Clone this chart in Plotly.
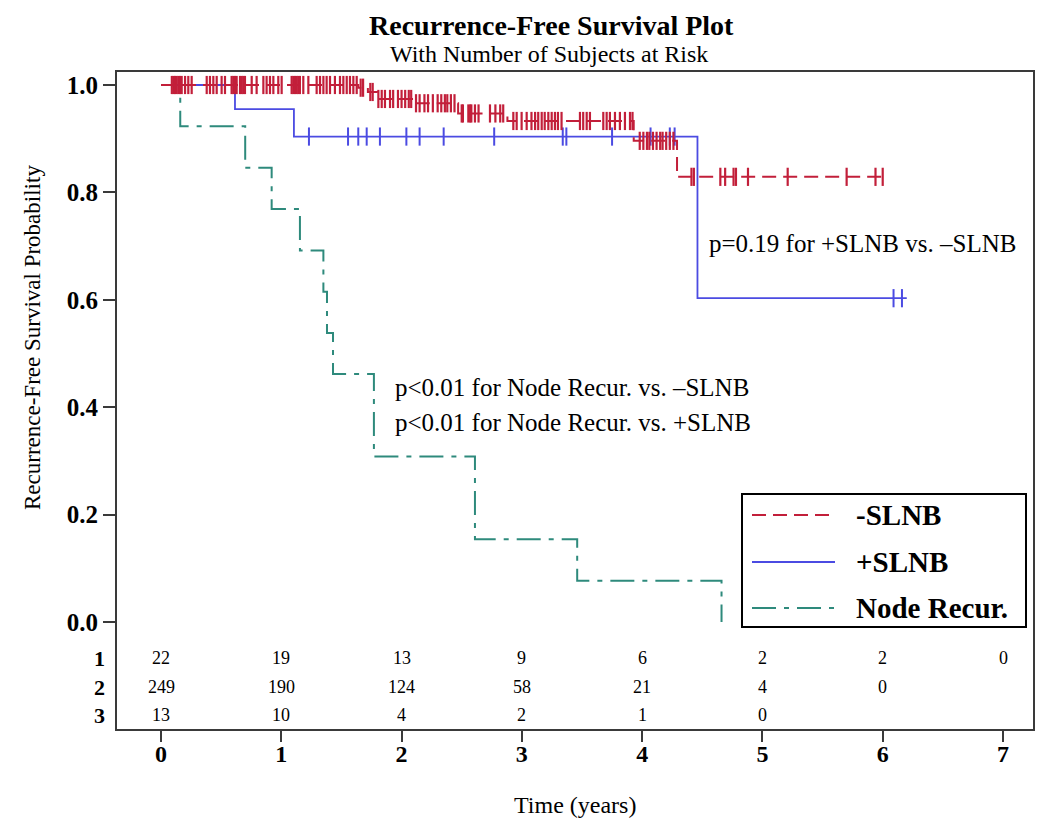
import numpy as np
import plotly.graph_objects as go

FONT = "Liberation Serif"
RED = "#C21F3A"
BLUE = "#4B4BE2"
TEAL = "#2E8A7C"
FRAME = "#3a3a3a"

# ---------------- data ----------------
# Node Recur. (group 3)
nr_times = [0.0, 0.16, 0.70, 0.92, 1.155, 1.35, 1.38, 1.43, 1.77, 2.61, 3.46, 4.66]
nr_surv = [1.0, 0.923, 0.846, 0.769, 0.692, 0.615, 0.538, 0.462, 0.308, 0.154, 0.077, 0.0]

# +SLNB (group 1)
pos_times = [0.0, 0.615, 1.105, 4.46, 6.20]
pos_surv = [1.0, 0.955, 0.904, 0.603, 0.603]
pos_censor = [1.23, 1.555, 1.64, 1.71, 1.82, 2.04, 2.15, 2.35, 2.77, 3.34, 3.37,
              3.75, 4.07, 4.23, 4.27, 6.09, 6.16]

# -SLNB (group 2)
neg_times = [0.0, 1.64, 1.72, 1.80, 2.10, 2.47, 2.88, 3.93, 4.29, 6.03]
neg_surv = [1.0, 0.995, 0.987, 0.974, 0.966, 0.947, 0.933, 0.896, 0.829, 0.829]
neg_censor = [0.09, 0.105, 0.116, 0.13, 0.144, 0.158, 0.172, 0.20, 0.227, 0.255,
              0.38, 0.407, 0.435, 0.463, 0.504, 0.532, 0.587, 0.601, 0.615, 0.629,
              0.657, 0.671, 0.684, 0.698, 0.754, 0.795, 0.851, 0.878, 0.906, 0.934,
              0.975, 1.003, 1.086, 1.10, 1.114, 1.128, 1.141, 1.155, 1.183, 1.225,
              1.294, 1.322, 1.35, 1.377, 1.405, 1.446, 1.488, 1.516, 1.544, 1.571,
              1.599, 1.627, 1.66, 1.68, 1.74, 1.76, 1.807, 1.835, 1.862, 1.904,
              1.93, 1.97, 2.0, 2.03, 2.06, 2.08, 2.12, 2.15, 2.19, 2.22, 2.26,
              2.30, 2.33, 2.36, 2.38, 2.41, 2.44, 2.50, 2.51, 2.555, 2.57, 2.58,
              2.61, 2.64, 2.735, 2.78, 2.82, 2.845, 2.929, 2.957, 2.998, 3.04,
              3.08, 3.11, 3.136, 3.165, 3.19, 3.22, 3.248, 3.275, 3.30, 3.33,
              3.483, 3.51, 3.539, 3.566, 3.677, 3.705, 3.732, 3.774, 3.815, 3.857,
              3.899, 3.92, 3.98, 4.01, 4.04, 4.06, 4.09, 4.12, 4.15, 4.17, 4.20,
              4.23, 4.26, 4.41, 4.43, 4.65, 4.69, 4.76, 4.78, 4.88, 5.21, 5.70,
              5.94, 6.00]

# Number at risk table
atrisk_times = [0, 1, 2, 3, 4, 5, 6, 7]
atrisk_group_labels = ["1", "2", "3"]
atrisk_1 = [22, 19, 13, 9, 6, 2, 2, 0]
atrisk_2 = [249, 190, 124, 58, 21, 4, 0]
atrisk_3 = [13, 10, 4, 2, 1, 0]

legend_names = ["-SLNB", "+SLNB", "Node Recur."]
y_ticks = [0.0, 0.2, 0.4, 0.6, 0.8, 1.0]
x_ticks = [0, 1, 2, 3, 4, 5, 6, 7]

# ---------------- layout helpers (page pixel -> paper) ----------------
OFF = 8  # default body margin of the html page
W, H = 1050 - OFF, 833 - OFF
L, R, T, B = 117, 1033, 72, 729  # plot frame in page pixels


def px(xp):
    return (xp - L) / (R - L)


def py(yp):
    return (B - yp) / (B - T)


def step_value(times, surv, t):
    i = np.searchsorted(np.asarray(times), t, side="right") - 1
    return surv[max(i, 0)]


fig = go.Figure()

# Node Recur.
fig.add_trace(go.Scatter(
    x=nr_times, y=nr_surv, mode="lines", name=legend_names[2],
    line=dict(shape="hv", color=TEAL, width=2, dash="24px,8px,5px,8px"),
    showlegend=False, hoverinfo="skip"))

# +SLNB
fig.add_trace(go.Scatter(
    x=pos_times, y=pos_surv, mode="lines", name=legend_names[1],
    line=dict(shape="hv", color=BLUE, width=1.8),
    showlegend=False, hoverinfo="skip"))
fig.add_trace(go.Scatter(
    x=pos_censor, y=[step_value(pos_times, pos_surv, t) for t in pos_censor],
    mode="markers", showlegend=False, hoverinfo="skip",
    marker=dict(symbol="line-ns", size=13, color=BLUE,
                line=dict(width=2, color=BLUE))))

# -SLNB
fig.add_trace(go.Scatter(
    x=neg_times, y=neg_surv, mode="lines", name=legend_names[0],
    line=dict(shape="hv", color=RED, width=2, dash="14px,7px"),
    showlegend=False, hoverinfo="skip"))
fig.add_trace(go.Scatter(
    x=neg_censor, y=[step_value(neg_times, neg_surv, t) for t in neg_censor],
    mode="markers", showlegend=False, hoverinfo="skip",
    marker=dict(symbol="line-ns", size=13, color=RED,
                line=dict(width=2.2, color=RED))))

x_per = (1003 - 161) / 7.0
x0 = 161
y_per = 537.0
y0 = 622

fig.update_xaxes(
    range=[(L - x0) / x_per, (R - x0) / x_per],
    tickvals=x_ticks, ticktext=[str(v) for v in x_ticks],
    ticks="outside", ticklen=11, tickwidth=2, tickcolor=FRAME,
    ticklabelstandoff=-9,
    tickfont=dict(family=FONT, size=24, color="black", weight="bold"),
    showline=True, linecolor=FRAME, linewidth=2, mirror=True,
    showgrid=False, zeroline=False)
fig.update_yaxes(
    range=[(y0 - B) / y_per, (y0 - T) / y_per],
    tickvals=y_ticks, ticktext=[f"{v:.1f}" for v in y_ticks],
    ticks="outside", ticklen=12, tickwidth=2, tickcolor=FRAME,
    tickfont=dict(family=FONT, size=25, color="black", weight="bold"),
    showline=True, linecolor=FRAME, linewidth=2, mirror=True,
    showgrid=False, zeroline=False)


def note(text, xp, yp, size, xanchor="center", bold=False, angle=0):
    return dict(text=f"<b>{text}</b>" if bold else text, x=px(xp), y=py(yp),
                xref="paper", yref="paper", xanchor=xanchor, yanchor="middle",
                showarrow=False, textangle=angle,
                font=dict(family=FONT, size=size, color="black"))


ann = []
# Titles
ann.append(note("Recurrence-Free Survival Plot", 551, 25, 28, bold=True))
ann.append(note("With Number of Subjects at Risk", 549, 54, 24))
# axis titles
ann.append(note("Time (years)", 575, 805, 24))
ann.append(note("Recurrence-Free Survival Probability", 32, 338, 23, angle=-90))
# p-value texts
ann.append(note("p=0.19 for +SLNB vs. \u2013SLNB", 707, 243, 25, xanchor="left"))
ann.append(note("p<0.01 for Node Recur. vs. \u2013SLNB", 393, 387, 25, xanchor="left"))
ann.append(note("p<0.01 for Node Recur. vs. +SLNB", 393, 422, 25, xanchor="left"))

# at-risk table
row_y = [658, 687, 715]
for lab, vals, yy in zip(atrisk_group_labels, [atrisk_1, atrisk_2, atrisk_3], row_y):
    ann.append(note(lab, 99, yy, 22, bold=True))
    for t, v in zip(atrisk_times, vals):
        ann.append(dict(text=str(v), x=t, y=py(yy), xref="x", yref="paper",
                        xanchor="center", yanchor="middle", showarrow=False,
                        font=dict(family=FONT, size=18, color="black")))

# manual legend
shapes = [dict(type="rect", xref="paper", yref="paper", x0=px(742), x1=px(1026),
               y0=py(627), y1=py(494), line=dict(color="black", width=2),
               fillcolor="white", layer="above")]
leg_styles = [(RED, "14px,7px"), (BLUE, "solid"), (TEAL, "24px,8px,5px,8px")]
leg_y = [515, 562, 608]
for (col, dsh), nm, yy in zip(leg_styles, legend_names, leg_y):
    shapes.append(dict(type="line", xref="paper", yref="paper", x0=px(752), x1=px(835),
                       y0=py(yy), y1=py(yy), line=dict(color=col, width=2, dash=dsh),
                       layer="above"))
    ann.append(note(nm, 854, yy, 29, xanchor="left", bold=True))

fig.update_layout(
    width=W, height=H,
    margin=dict(l=L - OFF, r=1050 - R, t=T - OFF, b=833 - B),
    paper_bgcolor="white", plot_bgcolor="white",
    showlegend=False, annotations=ann, shapes=shapes,
    font=dict(family=FONT, color="black"))

fig.write_html("out.html")
